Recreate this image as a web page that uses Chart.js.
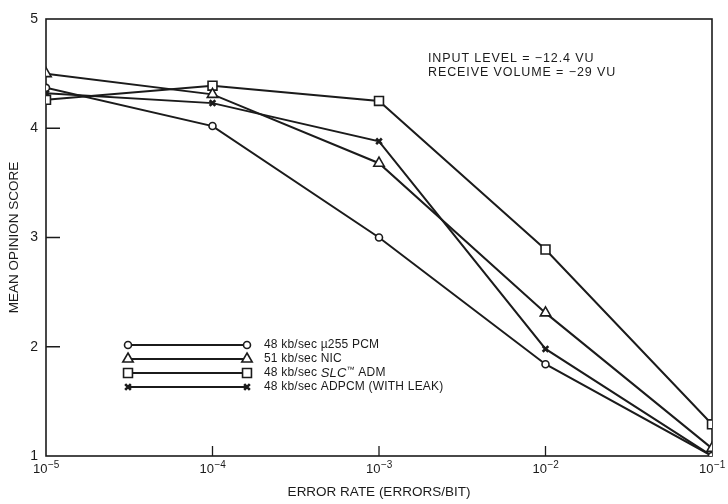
<!DOCTYPE html>
<html>
<head>
<meta charset="utf-8">
<script src="https://cdn.jsdelivr.net/npm/chart.js@4/dist/chart.umd.min.js"></script>
<style>
  html, body { margin: 0; padding: 0; background: #fff; }
  #wrap { width: 728px; height: 504px; }
</style>
</head>
<body>
<div id="wrap"><canvas id="c" width="728" height="504"></canvas></div>
<script>
// Error rate (errors/bit) at which each coder was scored
const errorRates = [1e-5, 1e-4, 1e-3, 1e-2, 1e-1];
const errorExponents = ['\u22125', '\u22124', '\u22123', '\u22122', '\u22121'];

// Mean opinion scores per coder
const pcmScores   = [4.37, 4.02, 3.00, 1.84, 1.00];
const nicScores   = [4.50, 4.31, 3.68, 2.31, 1.07];
const admScores   = [4.26, 4.39, 4.25, 2.89, 1.29];
const adpcmScores = [4.32, 4.23, 3.88, 1.98, 1.00];

const seriesLabels = [
  '48 kb/sec \u00b5255 PCM',
  '51 kb/sec NIC',
  '48 kb/sec SLC\u2122 ADM',
  '48 kb/sec ADPCM (WITH LEAK)'
];

const yTickValues = [1, 2, 3, 4, 5];
const noteLines = ['INPUT LEVEL = \u221212.4 VU', 'RECEIVE VOLUME = \u221229 VU'];

const INK = '#1b1b1b';
const FONT = '"Liberation Sans", Arial, sans-serif';

function series(scores) {
  return errorRates.map((x, i) => ({ x: x, y: scores[i] }));
}

function makeDataset(label, scores, style, radius, borderWidth) {
  return {
    label: label,
    data: series(scores),
    borderColor: INK,
    borderWidth: 2,
    pointStyle: style,
    pointRadius: radius,
    pointBorderWidth: borderWidth,
    pointBackgroundColor: '#fff',
    pointBorderColor: INK,
    tension: 0,
    fill: false
  };
}

// Frame, inward tick marks, power-of-ten labels, legend and test-condition note
const decorations = {
  id: 'decorations',
  beforeDatasetsDraw(chart) {
    const { ctx, chartArea: a, scales } = chart;
    ctx.save();
    ctx.strokeStyle = INK;
    ctx.lineWidth = 1.6;
    ctx.strokeRect(a.left, a.top, a.right - a.left, a.bottom - a.top);
    ctx.lineWidth = 1.3;
    ctx.beginPath();
    errorRates.slice(1, -1).forEach(v => {
      const px = scales.x.getPixelForValue(v);
      ctx.moveTo(px, a.bottom);
      ctx.lineTo(px, a.bottom - 10);
    });
    yTickValues.slice(1, -1).forEach(v => {
      const py = scales.y.getPixelForValue(v);
      ctx.moveTo(a.left, py);
      ctx.lineTo(a.left + 14, py);
    });
    ctx.stroke();

    // x tick labels as 10 with a raised exponent
    ctx.fillStyle = INK;
    ctx.textBaseline = 'alphabetic';
    ctx.textAlign = 'left';
    errorRates.forEach((v, i) => {
      const px = scales.x.getPixelForValue(v);
      ctx.font = '13px ' + FONT;
      const wBase = ctx.measureText('10').width;
      ctx.font = '10px ' + FONT;
      const wExp = ctx.measureText(errorExponents[i]).width;
      let left = px - (wBase + wExp) / 2;
      left = Math.min(left, chart.width - (wBase + wExp) - 1);
      ctx.font = '13px ' + FONT;
      ctx.fillText('10', left, a.bottom + 17);
      ctx.font = '10px ' + FONT;
      ctx.fillText(errorExponents[i], left + wBase + 0.5, a.bottom + 12);
    });
    ctx.restore();
  },
  afterDraw(chart) {
    const { ctx } = chart;
    ctx.save();

    // legend
    const x0 = 128, x1 = 247, textX = 264;
    const rowY = [345, 359, 373, 387];
    chart.data.datasets.forEach((ds, i) => {
      const y = rowY[i];
      ctx.strokeStyle = INK;
      ctx.lineWidth = 2;
      ctx.beginPath();
      ctx.moveTo(x0, y);
      ctx.lineTo(x1, y);
      ctx.stroke();
      const opts = {
        pointStyle: ds.pointStyle,
        radius: ds.pointRadius,
        borderWidth: ds.pointBorderWidth,
        rotation: 0
      };
      ctx.fillStyle = '#fff';
      ctx.lineWidth = ds.pointBorderWidth;
      [x0, x1].forEach(px => Chart.helpers.drawPoint(ctx, opts, px, y));

      // label, with the trade name set in italics
      ctx.fillStyle = INK;
      ctx.textBaseline = 'middle';
      ctx.textAlign = 'left';
      ctx.letterSpacing = '0.2px';
      const parts = ds.label.split(/(SLC)(\u2122)/).filter(s => s.length);
      let tx = textX;
      parts.forEach(p => {
        let font = '12px ' + FONT, dy = 0;
        if (p === 'SLC') font = 'italic 13px ' + FONT;
        if (p === '\u2122') { font = '8px ' + FONT; dy = -3; }
        ctx.font = font;
        ctx.fillText(p, tx, y + dy);
        tx += ctx.measureText(p).width;
      });
    });

    // test conditions
    ctx.font = '12.5px ' + FONT;
    ctx.letterSpacing = '0.9px';
    ctx.fillStyle = INK;
    ctx.textBaseline = 'middle';
    noteLines.forEach((t, i) => ctx.fillText(t, 428, 59 + i * 14));
    ctx.restore();
  }
};

new Chart(document.getElementById('c'), {
  type: 'line',
  data: {
    datasets: [
      makeDataset(seriesLabels[0], pcmScores, 'circle', 3.5, 1.6),
      makeDataset(seriesLabels[1], nicScores, 'triangle', 6, 1.6),
      makeDataset(seriesLabels[2], admScores, 'rect', 6.3, 1.6),
      makeDataset(seriesLabels[3], adpcmScores, 'crossRot', 4, 2.6)
    ]
  },
  options: {
    responsive: false,
    devicePixelRatio: 1,
    animation: false,
    layout: { padding: { top: 19, right: 16, left: 0, bottom: 0 } },
    plugins: { legend: { display: false }, tooltip: { enabled: false } },
    scales: {
      x: {
        type: 'logarithmic',
        min: errorRates[0],
        max: errorRates[errorRates.length - 1],
        afterBuildTicks: s => { s.ticks = errorRates.map(v => ({ value: v })); },
        afterFit: s => { s.height = 48; },
        grid: { display: false, drawTicks: false },
        border: { display: false },
        ticks: { display: false },
        title: {
          display: true,
          text: 'ERROR RATE (ERRORS/BIT)',
          color: INK,
          font: { family: FONT, size: 13.5 },
          padding: { top: 0, bottom: 4 }
        }
      },
      y: {
        min: 1,
        max: 5,
        afterBuildTicks: s => { s.ticks = yTickValues.map(v => ({ value: v })); },
        afterFit: s => { s.width = 46; },
        grid: { display: false, drawTicks: false },
        border: { display: false },
        ticks: {
          padding: 8,
          color: INK,
          font: { family: FONT, size: 14 },
          callback: v => String(v)
        },
        title: {
          display: true,
          text: 'MEAN OPINION SCORE',
          color: INK,
          font: { family: FONT, size: 13.5 },
          padding: { top: 6, bottom: 0 }
        }
      }
    }
  },
  plugins: [decorations]
});
</script>
</body>
</html>
